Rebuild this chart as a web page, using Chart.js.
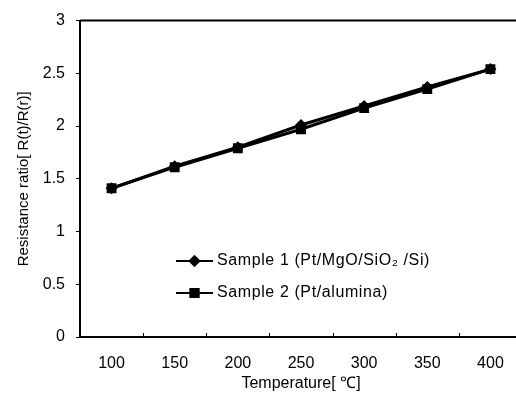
<!DOCTYPE html>
<html>
<head>
<meta charset="utf-8">
<script src="https://cdn.jsdelivr.net/npm/chart.js@4.4.1/dist/chart.umd.min.js"></script>
<style>
  html, body { margin: 0; padding: 0; background: #fff; overflow: hidden; }
  #wrap { width: 516px; height: 397px; overflow: hidden; }
</style>
</head>
<body>
<div id="wrap"><canvas id="c" width="530" height="397"></canvas></div>
<script>
// values
const temperatures = ['100', '150', '200', '250', '300', '350', '400'];
const sample1 = [1.41, 1.62, 1.80, 2.01, 2.19, 2.37, 2.54];
const sample2 = [1.41, 1.61, 1.79, 1.97, 2.17, 2.35, 2.54];
const seriesNames = ['Sample 1 (Pt/MgO/SiO\u2082 /Si)', 'Sample 2 (Pt/alumina)'];

const FONT = '"Liberation Sans", Arial, sans-serif';
const INK = '#000';

// top border line + inward category ticks on the x axis
const frame = {
    id: 'frame',
    afterDraw(chart) {
        const { ctx, chartArea: { left, right, top, bottom }, scales: { x } } = chart;
        ctx.save();
        ctx.strokeStyle = INK;
        ctx.lineWidth = 2;
        ctx.beginPath();
        ctx.moveTo(left, top);
        ctx.lineTo(right + 10, top);
        ctx.stroke();
        ctx.lineWidth = 1;
        const half = (x.getPixelForValue(1) - x.getPixelForValue(0)) / 2;
        for (let i = 0; i < temperatures.length; i++) {
            const px = Math.round(x.getPixelForValue(i) + half) + 0.5;
            ctx.beginPath();
            ctx.moveTo(px, bottom);
            ctx.lineTo(px, bottom - 4);
            ctx.stroke();
        }
        ctx.restore();
    }
};

// legend drawn inside the plot, like the original
const innerLegend = {
    id: 'innerLegend',
    afterDraw(chart) {
        const { ctx } = chart;
        const x0 = 176, x1 = 213, rows = [261, 293];
        ctx.save();
        chart.data.datasets.forEach((ds, i) => {
            const y = rows[i];
            ctx.strokeStyle = INK;
            ctx.lineWidth = 2;
            ctx.beginPath();
            ctx.moveTo(x0, y);
            ctx.lineTo(x1, y);
            ctx.stroke();
            ctx.fillStyle = INK;
            Chart.helpers.drawPoint(ctx, {
                pointStyle: ds.pointStyle, radius: ds.pointRadius, borderWidth: 0
            }, (x0 + x1) / 2, y);
            ctx.fill();
            ctx.font = '16px ' + FONT;
            ctx.letterSpacing = '0.6px';
            ctx.textBaseline = 'middle';
            ctx.textAlign = 'left';
            ctx.fillText(ds.label, x1 + 4, y);
        });
        ctx.restore();
    }
};

new Chart(document.getElementById('c'), {
    type: 'line',
    data: {
        labels: temperatures,
        datasets: [
            {
                label: seriesNames[0], data: sample1,
                borderColor: INK, backgroundColor: INK, borderWidth: 3,
                pointStyle: 'rectRot', pointRadius: 6, pointBorderWidth: 0
            },
            {
                label: seriesNames[1], data: sample2,
                borderColor: INK, backgroundColor: INK, borderWidth: 3,
                pointStyle: 'rect', pointRadius: 7, pointBorderWidth: 0
            }
        ]
    },
    options: {
        responsive: false,
        animation: false,
        layout: { padding: { top: 14, right: 8, left: 4, bottom: 4 } },
        plugins: { legend: { display: false }, tooltip: { enabled: false } },
        scales: {
            x: {
                offset: true,
                grid: { display: false, drawTicks: false },
                border: { color: INK, width: 2 },
                ticks: { color: INK, font: { family: FONT, size: 16 }, padding: 17 },
                title: { display: true, text: 'Temperature[ \u2103]', color: INK,
                         font: { family: FONT, size: 16 }, padding: { top: 2, bottom: 0 } },
                afterFit(scale) { scale.height = 56; }
            },
            y: {
                min: 0, max: 3,
                grid: { drawOnChartArea: false, tickLength: 4, color: INK },
                border: { color: INK, width: 2 },
                ticks: { stepSize: 0.5, color: INK, font: { family: FONT, size: 16 }, padding: 11,
                         callback: v => String(Math.round(v * 10) / 10) },
                title: { display: true, text: 'Resistance ratio[ R(t)/R(r)]', color: INK,
                         font: { family: FONT, size: 15 }, padding: { top: 11, bottom: 0 } },
                afterFit(scale) { scale.width = 76; }
            }
        }
    },
    plugins: [frame, innerLegend]
});
</script>
</body>
</html>
